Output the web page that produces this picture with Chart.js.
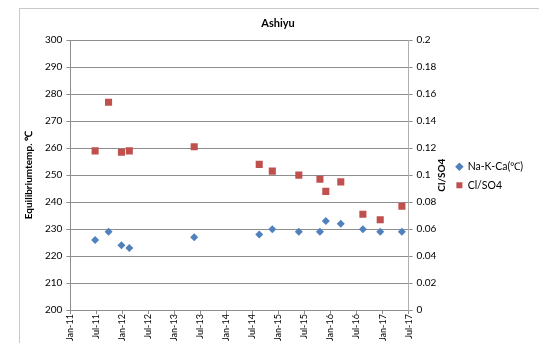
<!DOCTYPE html>
<html>
<head>
<meta charset="utf-8">
<script src="https://cdn.jsdelivr.net/npm/chart.js@4.4.1/dist/chart.umd.min.js"></script>
<style>
  html, body { margin: 0; padding: 0; background: #fff; }
  #wrap { position: relative; width: 539px; height: 343px; overflow: hidden; }
  #frame { position: absolute; left: 19px; top: 8px; width: 560px; height: 400px; border: 1px solid #c8c8c8; }
  canvas { position: absolute; left: 0; top: 0; }
</style>
</head>
<body>
<div id="wrap">
  <div id="frame"></div>
  <canvas id="chart" width="539" height="343"></canvas>
</div>
<script>
// sampling dates (shared by both series)
const sampleDates = [
  "2011-06-22", "2011-09-25", "2011-12-25", "2012-02-18", "2013-05-18",
  "2014-08-18", "2014-11-18", "2015-05-22", "2015-10-18", "2015-11-28",
  "2016-03-12", "2016-08-15", "2016-12-15", "2017-05-15"
];
// Na-K-Ca equilibrium temperature (left axis, deg C)
const naKCa = [226, 229, 224, 223, 227, 228, 230, 229, 229, 233, 232, 230, 229, 229];
// Cl/SO4 ratio (right axis)
const clSo4 = [0.118, 0.154, 0.117, 0.118, 0.121, 0.108, 0.103, 0.100, 0.097, 0.088, 0.095, 0.071, 0.067, 0.077];
// x tick labels every 6 months from Jan-11
const monthTickLabels = ["Jan-11", "Jul-11", "Jan-12", "Jul-12", "Jan-13", "Jul-13", "Jan-14",
  "Jul-14", "Jan-15", "Jul-15", "Jan-16", "Jul-16", "Jan-17", "Jul-17"];

// months since Jan 2011
function toMonths(s) {
  const [y, m, d] = s.split("-").map(Number);
  const days = new Date(y, m, 0).getDate();
  return (y - 2011) * 12 + (m - 1) + (d - 1) / days;
}

const xs = sampleDates.map(toMonths);
const font = "Lato, 'Liberation Sans', sans-serif";
const gridColor = "#8e8e8e";
const rightTitle = "Cl/SO4";

// right axis title reads bottom-to-top, like the left one
const rightTitlePlugin = {
  id: "rightTitle",
  afterDraw(chart) {
    const s = chart.scales.y1;
    const ctx = chart.ctx;
    ctx.save();
    ctx.translate(s.right - 7, (s.top + s.bottom) / 2);
    ctx.rotate(-Math.PI / 2);
    ctx.font = "bold 10px " + font;
    ctx.fillStyle = "#000";
    ctx.textAlign = "center";
    ctx.textBaseline = "middle";
    ctx.fillText(rightTitle, 0, 0);
    ctx.restore();
  }
};

new Chart(document.getElementById("chart"), {
  type: "scatter",
  data: {
    datasets: [
      {
        label: "Na-K-Ca(\u2103)",
        data: xs.map((x, i) => ({ x, y: naKCa[i] })),
        yAxisID: "y",
        pointStyle: "rectRot",
        pointRadius: 4,
        backgroundColor: "#4F81BD",
        borderColor: "#4F81BD",
        borderWidth: 0
      },
      {
        label: "Cl/SO4",
        data: xs.map((x, i) => ({ x, y: clSo4[i] })),
        yAxisID: "y1",
        pointStyle: "rect",
        pointRadius: 5,
        backgroundColor: "#C0504D",
        borderColor: "#C0504D",
        borderWidth: 0
      }
    ]
  },
  options: {
    responsive: false,
    animation: false,
    layout: { padding: { left: 23, right: 6, top: 11, bottom: 2 } },
    plugins: {
      title: {
        display: true,
        text: "Ashiyu",
        font: { family: font, size: 11, weight: "bold" },
        color: "#000",
        padding: { top: 6, bottom: 10 }
      },
      legend: {
        position: "right",
        labels: {
          usePointStyle: true,
          boxWidth: 6,
          boxHeight: 6,
          padding: 8,
          font: { family: font, size: 10.5 },
          color: "#000"
        }
      },
      tooltip: { enabled: false }
    },
    scales: {
      x: {
        type: "linear",
        min: 0,
        max: 78,
        afterBuildTicks: (axis) => {
          axis.ticks = monthTickLabels.map((_, i) => ({ value: i * 6 }));
        },
        ticks: {
          callback: (v) => monthTickLabels[Math.round(v / 6)],
          maxRotation: 90,
          minRotation: 90,
          autoSkip: false,
          padding: 0,
          font: { family: font, size: 9 },
          color: "#000"
        },
        grid: { drawOnChartArea: false, drawTicks: true, tickLength: 4, color: gridColor },
        border: { color: gridColor }
      },
      y: {
        position: "left",
        min: 200,
        max: 300,
        ticks: {
          stepSize: 10,
          padding: 4,
          font: { family: font, size: 10 },
          color: "#000"
        },
        title: {
          display: true,
          text: "Equilibriumtemp. \u2103",
          font: { family: font, size: 10, weight: "bold" },
          color: "#000",
          padding: { top: 0, bottom: 6 }
        },
        grid: { color: gridColor, tickLength: 4 },
        border: { color: gridColor }
      },
      y1: {
        position: "right",
        min: 0,
        max: 0.2,
        afterFit: (axis) => { axis.width -= 6; },
        ticks: {
          stepSize: 0.02,
          padding: 4,
          callback: (v) => String(Math.round(v * 100) / 100),
          font: { family: font, size: 10 },
          color: "#000"
        },
        title: {
          display: true,
          text: rightTitle,
          font: { family: font, size: 10, weight: "bold" },
          color: "rgba(0,0,0,0)",
          padding: { top: 0, bottom: 2 }
        },
        grid: { drawOnChartArea: false, color: gridColor, tickLength: 4 },
        border: { color: "#b0b0b0" }
      }
    }
  },
  plugins: [rightTitlePlugin]
});
</script>
</body>
</html>
